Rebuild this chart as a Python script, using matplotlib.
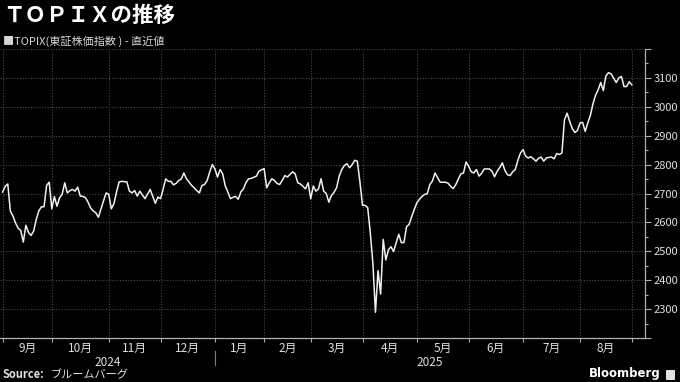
import numpy as np
import matplotlib
matplotlib.use("Agg")
import matplotlib.pyplot as plt
from matplotlib.patches import FancyBboxPatch

plt.rcParams['font.family'] = ['Noto Sans CJK JP', 'DejaVu Sans']

# ---- data (one close per trading day, 2024-08-30 .. 2025-08-29) ----
topix = [
    2705, 2725, 2733, 2639, 2622, 2598, 2580, 2572, 2532, 2590,
    2565, 2555, 2570, 2610, 2640, 2654, 2654, 2728, 2739, 2647,
    2689, 2656, 2685, 2697, 2737, 2702, 2710, 2714, 2708, 2722,
    2691, 2690, 2686, 2670, 2650, 2640, 2633, 2618, 2647, 2675,
    2702, 2697, 2647, 2665, 2705, 2740, 2742, 2741, 2740, 2708,
    2702, 2710, 2691, 2708, 2695, 2682, 2698, 2714, 2690, 2666,
    2688, 2682, 2715, 2751, 2742, 2742, 2730, 2735, 2745, 2750,
    2771, 2751, 2740, 2728, 2720, 2710, 2702, 2728, 2731, 2745,
    2775, 2800, 2785, 2757, 2783, 2768, 2726, 2705, 2682, 2687,
    2690, 2680, 2705, 2716, 2738, 2751, 2752, 2756, 2760, 2777,
    2782, 2786, 2720, 2737, 2751, 2745, 2735, 2731, 2745, 2762,
    2757, 2766, 2775, 2768, 2737, 2733, 2725, 2716, 2737, 2682,
    2726, 2708, 2716, 2751, 2708, 2700, 2670, 2693, 2704, 2720,
    2760, 2783, 2797, 2803, 2789, 2800, 2815, 2812, 2740, 2659,
    2659, 2651, 2565, 2460, 2289, 2433, 2352, 2541, 2470, 2505,
    2516, 2499, 2530, 2559, 2530, 2530, 2585, 2593, 2620, 2645,
    2668, 2680, 2690, 2697, 2699, 2731, 2743, 2771, 2755, 2739,
    2739, 2739, 2736, 2725, 2717, 2730, 2750, 2768, 2771, 2809,
    2794, 2775, 2771, 2783, 2760, 2770, 2785, 2785, 2785, 2777,
    2758, 2777, 2790, 2806, 2780, 2765, 2762, 2775, 2783, 2815,
    2840, 2852, 2829, 2823, 2827, 2820, 2812, 2822, 2826, 2812,
    2823, 2825, 2826, 2820, 2838, 2835, 2840, 2955, 2978, 2950,
    2925, 2911, 2918, 2944, 2946, 2915, 2944, 2970, 3010, 3040,
    3059, 3084, 3056, 3107, 3118, 3114, 3099, 3084, 3100, 3105,
    3070, 3070, 3087, 3076,
]
month_labels = ['9月', '10月', '11月', '12月', '1月', '2月', '3月',
                '4月', '5月', '6月', '7月', '8月']
month_trading_days = [19, 22, 20, 21, 19, 18, 20, 21, 20, 21, 22, 20]
year_labels = ['2024', '2025']
months_in_year = [4, 8]
y_ticks = list(range(2200, 3201, 100))

title = 'ＴＯＰＩＸの推移'
subtitle = '■TOPIX(東証株価指数 ) - 直近値'
source_label = 'Source:'
source_text = 'ブルームバーグ'

# ---- figure ----
W, H = 680, 382
fig = plt.figure(figsize=(W / 100, H / 100), dpi=100, facecolor='black')
ax = fig.add_axes([0 / W, (H - 338) / H, 645 / W, (338 - 49) / H])
ax.set_facecolor('black')

x = np.arange(len(topix))
ax.plot(x, topix, color='#f0f0f0', lw=1.1, solid_joinstyle='round', zorder=3)

bounds = np.concatenate([[0], np.cumsum(month_trading_days)])
xmin, xmax = -1.0, 248.1
ax.set_xlim(xmin, xmax)
ax.set_ylim(y_ticks[0], y_ticks[-1])

grid_kw = dict(color='#4a4a4a', lw=0.8, ls=(0, (1, 1.5)), zorder=1)
for yv in y_ticks:
    ax.axhline(yv, **grid_kw)
for b in bounds:
    ax.axvline(b, **grid_kw)

for s in ['top', 'left']:
    ax.spines[s].set_visible(False)
for s in ['right', 'bottom']:
    ax.spines[s].set_color('#b0b0b0')
    ax.spines[s].set_linewidth(0.9)

ax.yaxis.tick_right()
ax.set_yticks(y_ticks)
ax.set_yticklabels(['' if (v == y_ticks[0] or v == y_ticks[-1]) else str(v) for v in y_ticks])
ax.set_yticks([v + 50 for v in y_ticks[:-1]], minor=True)
ax.tick_params(axis='y', which='major', colors='#b0b0b0', labelcolor='#e0e0e0',
               length=4, width=0.8, labelsize=8, pad=2)
ax.tick_params(axis='y', which='minor', colors='#b0b0b0', length=2, width=0.8)

ax.set_xticks(bounds)
ax.set_xticklabels([])
ax.tick_params(axis='x', colors='#b0b0b0', length=3, width=0.8)

tr = ax.get_xaxis_transform()
for i, lab in enumerate(month_labels):
    ax.text((bounds[i] + bounds[i + 1]) / 2, -0.014, lab, transform=tr,
            ha='center', va='top', color='#e0e0e0', fontsize=8.5)

ystarts = np.concatenate([[0], np.cumsum(months_in_year)])
for k, yl in enumerate(year_labels):
    left = xmin if k == 0 else bounds[ystarts[k]]
    right = xmax if k == len(year_labels) - 1 else bounds[ystarts[k + 1]]
    ax.text((left + right) / 2, -0.062, yl, transform=tr,
            ha='center', va='top', color='#e0e0e0', fontsize=8.5)
    if k > 0:
        ax.plot([left, left], [-0.045, -0.095], transform=tr, color='#808080',
                lw=0.8, clip_on=False)

# ---- texts ----
fig.text(3 / W, 1 - 15 / H, title, color='white', fontsize=15.5, fontweight='bold',
         ha='left', va='center')
fig.text(3 / W, 1 - 41 / H, subtitle, color='#d8d8d8', fontsize=8,
         ha='left', va='center')
fig.text(3 / W, 1 - 375 / H, source_label, color='#e0e0e0', fontsize=8,
         fontweight='bold', ha='left', va='center')
fig.text(51 / W, 1 - 375 / H, source_text, color='#e0e0e0', fontsize=8,
         ha='left', va='center')
fig.text(661 / W, 1 - 374 / H, 'Bloomberg', color='white', fontsize=8.5,
         fontweight='bold', ha='right', va='center', family=['DejaVu Sans'])
icon = FancyBboxPatch((666 / W, 1 - 380 / H), 9 / W, 10 / H,
                      boxstyle='round,pad=0,rounding_size=0.002',
                      transform=fig.transFigure, facecolor='#e0e0e0',
                      edgecolor='none')
fig.patches.append(icon)

fig.savefig('out.png', dpi=100, facecolor='black')
